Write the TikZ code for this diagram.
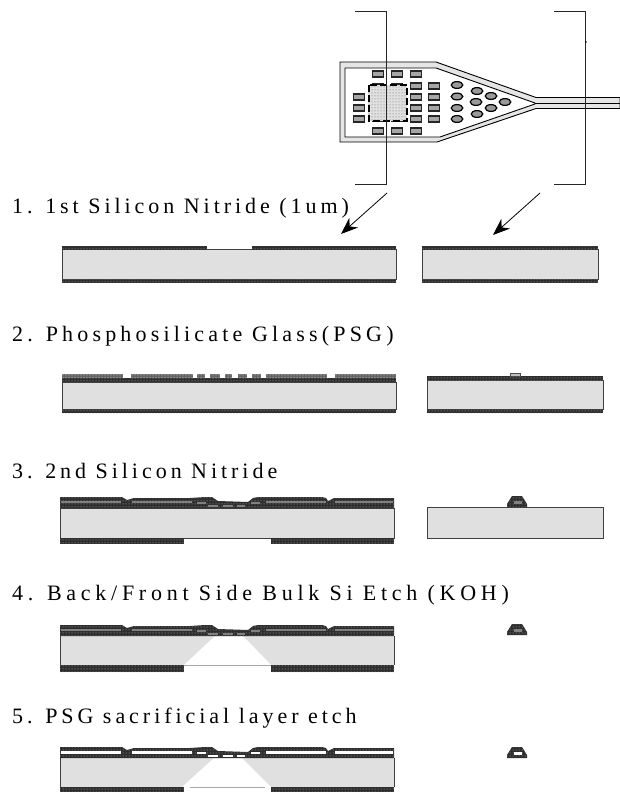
\documentclass[tikz,border=0pt]{standalone}
\usepackage{fontspec}
\setmainfont{Liberation Serif}[LetterSpace=18]
\usepackage{tikz}
\usetikzlibrary{arrows.meta,patterns}
\tikzset{
  nitride/.style={fill=black!82,postaction={pattern=dots,pattern color=white!70!black}},
  silicon/.style={draw=black!75,line width=0.9pt,fill=black!12},
  psg/.style={draw=black!70,line width=0.6pt,fill=black!25},
  pad/.style={draw=black!85,line width=1.5pt,fill=black!35},
  steplabel/.style={anchor=base west,inner sep=0pt,font=\fontsize{22}{26}\selectfont},
  pointer/.style={line width=0.8pt,-{Stealth[length=17pt,width=13pt]}},
  bracket/.style={line width=1pt,black!85}
}
\begin{document}
\begin{tikzpicture}[x=1pt,y=-1pt]
  \useasboundingbox[fill=white] (0,0) rectangle (620,792);
  % probe outline
  \draw[line width=0.9pt,fill=black!10] (340,62) -- (436,62) -- (536,97.5) -- (620,97.5) -- (620,108.5) -- (536,108.5) -- (437,142) -- (340,142) -- cycle;
  \draw[line width=0.9pt,fill=white] (345,68) -- (436,68) -- (535,103) -- (535,104) -- (440,137) -- (345,137) -- cycle;
  \draw[line width=0.7pt] (535,103) -- (620,103);
  % pads
  \foreach \x/\y in {378/74,397/74,416/74,416/86,434/86,416/97,434/97,416/108,434/108,416/119,434/119,359/97,359/108,359/119,378/131,397/131,416/131,378/87,397/87,378/118,397/118} {
    \draw[pad] (\x-5.5,\y-3.2) rectangle (\x+5.5,\y+3.2);
  }
  \foreach \x/\y in {457/85,457/96.5,457/108,457/119,477/91,476/102,477/114,491/96,491/108,505/102} {
    \draw[line width=1.2pt,fill=black!40] (\x,\y) ellipse (5.8 and 3.4);
  }
  % dotted window
  \fill[black!12] (368,85) rectangle (407,121);
  \fill[pattern=dots,pattern color=black!60] (368,85) rectangle (407,121);
  \draw[line width=1.1pt,dash pattern=on 7pt off 3pt] (369,85) rectangle (407,121);
  % section brackets
  \draw[bracket] (355,12) -- (386,12) -- (386,184) -- (355,184);
  \draw[bracket] (554,12) -- (585,12) -- (585,184) -- (554,184);
  \fill (586,42) circle (0.8);
  % section arrows
  \coordinate (a1) at (387,193);
  \coordinate (b1) at (341,234);
  \coordinate (a2) at (540,193);
  \coordinate (b2) at (493,235);
  \draw[pointer] (a1) -- (b1);
  \draw[pointer] (a2) -- (b2);
  % labels
  \node[steplabel] (step1) at (12,213) {1. 1st Silicon Nitride (1um)};
  \node[steplabel] (step2) at (12,341) {\addfontfeature{LetterSpace=19}2. Phosphosilicate Glass(PSG)};
  \node[steplabel] (step3) at (12,478) {3. 2nd Silicon Nitride};
  \node[steplabel] (step4) at (12,600) {\addfontfeature{LetterSpace=21.5}4. Back/Front Side Bulk Si Etch (KOH)};
  \node[steplabel] (step5) at (12,723) {5. PSG sacrificial layer etch};
  % 1st nitride
  \draw[silicon] (62,249.5) rectangle (396,279.5);
  \fill[nitride] (62,246) rectangle (207,249.5);
  \fill[nitride] (252,246) rectangle (396,249.5);
  \fill[nitride] (62,279.5) rectangle (396,283);
  \draw[silicon] (422,249.5) rectangle (598,279.5);
  \fill[nitride] (422,246) rectangle (598,249.5);
  \fill[nitride] (422,279.5) rectangle (598,283);
  % PSG
  \draw[silicon] (62,382) rectangle (396,409.5);
  \fill[nitride] (62,378) rectangle (396,382);
  \fill[nitride] (62,409.5) rectangle (396,413);
  \foreach \a/\b in {62/123,131/193,197/205,210/220,225/232,238/247,252/261,266/327,335/396} {
    \fill[fill=black!60,postaction={pattern=dots,pattern color=white}] (\a,374) rectangle (\b,378);
  }
  \draw[silicon] (427,380) rectangle (603,409.5);
  \fill[nitride] (427,376) rectangle (603,380);
  \fill[nitride] (427,409.5) rectangle (603,413);
  \draw[psg] (510,373) rectangle (520,376);
  % silicon bodies, 2nd nitride onwards
  \draw[silicon] (60,508) rectangle (394,538);
  \fill[nitride] (60,538) rectangle (184,544);
  \fill[nitride] (271,538) rectangle (394,544);
  \draw[silicon] (427,507) rectangle (603,538);
  \draw[silicon,draw=none] (60,636) rectangle (394,665);
  \fill[white] (215,636) -- (243,636) -- (271,665) -- (184,665) -- cycle;
  \draw[black!35,line width=0.6pt] (184,665) -- (271,665);
  \draw[black!75,line width=0.7pt] (60,636) -- (60,665) (394,636) -- (394,665);
  \fill[nitride] (60,665) rectangle (184,672);
  \fill[nitride] (271,665) rectangle (394,672);
  \draw[silicon,draw=none] (60,758) rectangle (394,787);
  \fill[white] (214,758) -- (242,758) -- (271,787) -- (182,787) -- cycle;
  \draw[black!35,line width=0.6pt] (190,787) -- (265,787);
  \draw[black!75,line width=0.7pt] (60,758) -- (60,787) (394,758) -- (394,787);
  \fill[nitride] (60,787) rectangle (184,792);
  \fill[nitride] (271,787) rectangle (394,792);
  % top film of the etched rows
  \foreach \ytop/\psgfill/\psgh in {497/black!50/2,625/black!50/2,747/white/3} {
    \begin{scope}[yshift=-\ytop pt]
      \fill[nitride] (60,0) -- (122,0) -- (127,3) -- (134,1) -- (190,1) -- (205,0) -- (212,0) -- (218,4) -- (248,5) -- (253,1) -- (258,0) -- (322,0) -- (326,1) -- (328,4) -- (334,1) -- (394,1) -- (394,11) -- (60,11) -- cycle;
      \foreach \a/\b in {61/121,132/192,266/326,335/393} {
        \fill[\psgfill] (\a,4.4) rectangle (\b,4.4+\psgh);
      }
      \foreach \a/\b in {197/206,251/260} {
        \fill[\psgfill] (\a,4.5) rectangle (\b,7);
      }
      \foreach \a/\b in {208/218,223/233,237/245} {
        \fill[\psgfill] (\a,7.5) rectangle (\b,10);
      }
    \end{scope}
  }
  % isolated lead
  \foreach \ybase/\leadfill in {507/black!50,635/black!50,758/white} {
    \fill[nitride] (507,\ybase) -- (507,\ybase-3) -- (512,\ybase-11) -- (522,\ybase-11) -- (527,\ybase-3) -- (527,\ybase) -- cycle;
    \fill[\leadfill] (514,\ybase-6) rectangle (522,\ybase-3.5);
  }
\end{tikzpicture}
\end{document}
